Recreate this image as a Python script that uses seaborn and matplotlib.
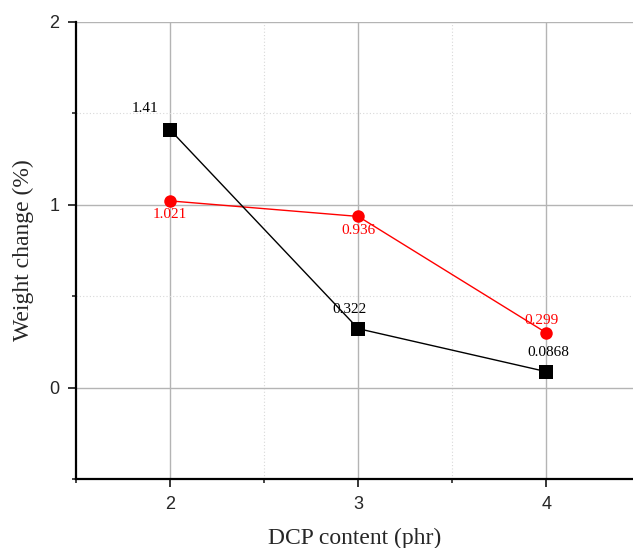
import numpy as np
import pandas as pd
import matplotlib
matplotlib.use('Agg')
import matplotlib.pyplot as plt
import seaborn as sns
from matplotlib.ticker import MultipleLocator

# Daten
dcp = [2, 3, 4]
black_vals = [1.41, 0.322, 0.0868]
red_vals = [1.021, 0.936, 0.299]
black_labels = ['1.41', '0.322', '0.0868']
red_labels = ['1.021', '0.936', '0.299']

sns.set_style('white')
plt.rcParams['font.family'] = ['Liberation Sans', 'DejaVu Sans']

fig = plt.figure(figsize=(6.33, 5.48), dpi=100)
ax = fig.add_axes([0.120, 0.126, 0.880, 0.834])

df_black = pd.DataFrame({'x': dcp, 'y': black_vals})
df_red = pd.DataFrame({'x': dcp, 'y': red_vals})

sns.lineplot(data=df_red, x='x', y='y', ax=ax, color='#ff0000', marker='o',
             markersize=9, markeredgewidth=0, linewidth=1, zorder=3)
sns.lineplot(data=df_black, x='x', y='y', ax=ax, color='black', marker='s',
             markersize=10, markeredgewidth=0, linewidth=1, zorder=4)

# Beschriftungen
black_off = [(-18, 15), (-6, 14), (1.5, 14)]
red_off = [(0, -9.5), (0, -10), (-3.6, 8.6)]
for x, y, t, o in zip(dcp, black_vals, black_labels, black_off):
    ax.annotate(t, (x, y), xytext=o, textcoords='offset points', ha='center', va='center',
                fontsize=11, family='Liberation Serif', color='black')
for x, y, t, o in zip(dcp, red_vals, red_labels, red_off):
    ax.annotate(t, (x, y), xytext=o, textcoords='offset points', ha='center',
                va='center', fontsize=11, family='Liberation Serif', color='#ff0000')

ax.set_xlim(1.5, 4.46)
ax.set_ylim(-0.5, 2)
ax.xaxis.set_major_locator(MultipleLocator(1))
ax.xaxis.set_minor_locator(MultipleLocator(0.5))
ax.yaxis.set_major_locator(MultipleLocator(1))
ax.yaxis.set_minor_locator(MultipleLocator(0.5))

ax.grid(which='major', color='#b4b4b4', linewidth=1, linestyle='-')
ax.grid(which='minor', color='#d8d8d8', linewidth=0.8, linestyle=(0, (1, 2)))
ax.set_axisbelow(True)

for s in ['top', 'right']:
    ax.spines[s].set_visible(False)
for s in ['left', 'bottom']:
    ax.spines[s].set_linewidth(1.6)
    ax.spines[s].set_color('black')

ax.tick_params(which='major', direction='out', length=6, width=1.3, labelsize=13,
               left=True, bottom=True, pad=6)
ax.tick_params(which='minor', direction='out', length=3, width=1.2, left=True, bottom=True)

ax.set_xlabel('DCP content (phr)', fontsize=17, family='Liberation Serif', labelpad=11)
ax.set_ylabel('Weight change (%)', fontsize=17, family='Liberation Serif', labelpad=11)

fig.savefig('out.png', dpi=100)
